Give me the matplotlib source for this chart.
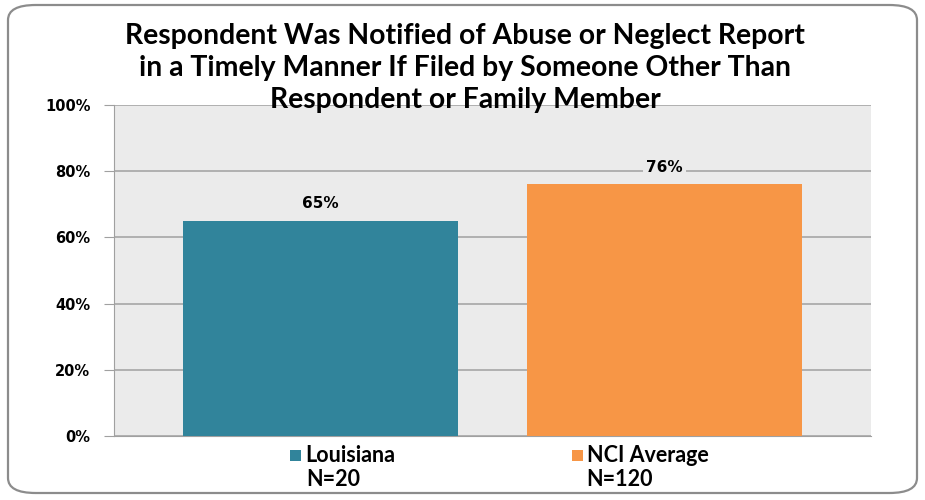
import matplotlib
matplotlib.use("Agg")
from matplotlib import pyplot as plt
from matplotlib.patches import FancyBboxPatch, Rectangle

# chart data
series = ["Louisiana", "NCI Average"]
sizes = ["N=20", "N=120"]
values = [65, 76]
colors = ["#31849B", "#F79646"]
yticks = [0, 20, 40, 60, 80, 100]

title = ("Respondent Was Notified of Abuse or Neglect Report\n"
         "in a Timely Manner If Filed by Someone Other Than\n"
         "Respondent or Family Member")

plt.rcParams['font.family'] = ['Lato', 'DejaVu Sans']

fig = plt.figure(figsize=(9.25, 5.0), dpi=100)
# rounded frame round the whole chart
frame = FancyBboxPatch((8 / 925, 7 / 500), 909 / 925, 488 / 500,
                       boxstyle="round,pad=0,rounding_size=0.03",
                       transform=fig.transFigure, facecolor="white",
                       edgecolor="#8C8C8C", linewidth=1.6, zorder=-5)
fig.patches.append(frame)

ax = fig.add_axes([114 / 925, 64 / 500, 757 / 925, 331 / 500])
ax.set_facecolor("#EBEBEB")

bars = ax.bar(range(len(values)), values, width=0.8, color=colors, zorder=3)
ax.set_xlim(-0.6, 1.6)
ax.set_ylim(0, 100)
ax.set_yticks(yticks)
ax.set_yticklabels([f"{t}%" for t in yticks], family="DejaVu Sans",
                   fontweight="bold", fontsize=10.5)
ax.set_xticks([])
ax.tick_params(axis="y", length=7, color="#A0A0A0", pad=10)
ax.grid(axis="y", color="#A6A6A6", linewidth=1.2, zorder=1)
for s in ["top", "right"]:
    ax.spines[s].set_visible(False)
ax.spines["left"].set_color("#A0A0A0")
ax.spines["bottom"].set_color("#A0A0A0")

for b, v in zip(bars, values):
    ax.text(b.get_x() + b.get_width() / 2, v + 3, f"{v}%", ha="center",
            va="bottom", family="DejaVu Sans", fontweight="bold", fontsize=11,
            bbox=dict(facecolor="#EBEBEB", edgecolor="none", pad=2), zorder=4)

fig.text(465 / 925, 477 / 500, title, ha="center", va="top", fontsize=20.4,
         fontweight="bold", linespacing=1.28, zorder=5)

# legend squares and labels under the plot
leg_x = [290, 572]
n_x = [333, 620]
for x, c, name, n, nx in zip(leg_x, colors, series, sizes, n_x):
    fig.patches.append(Rectangle((x / 925, 39 / 500), 11 / 925, 11 / 500,
                                 transform=fig.transFigure, facecolor=c))
    fig.text((x + 15) / 925, 44.5 / 500, name, ha="left", va="center",
             fontsize=15.5, fontweight="bold")
    fig.text(nx / 925, 20 / 500, n, ha="center", va="center",
             fontsize=15.5, fontweight="bold")

fig.savefig("out.png", dpi=100)
